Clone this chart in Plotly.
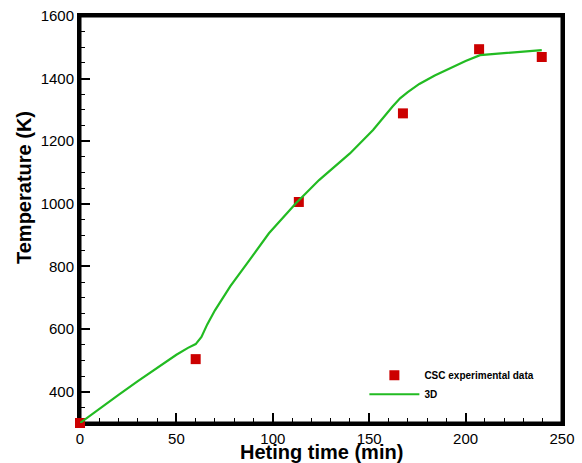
import plotly.graph_objects as go

# Experimental data (CSC)
exp_time = [0, 60, 113.5, 167.5, 207, 239.5]
exp_temp = [300, 504, 1006, 1289, 1494, 1469]

# 3D simulation curve
sim_time = [0, 10, 20, 30, 40, 50, 56, 60, 63, 66, 70, 78, 88, 98, 112, 124, 140, 152, 162, 166, 170, 176, 184, 192, 200, 207.5, 215, 223, 231, 239.5]
sim_temp = [300, 346, 390, 434, 477, 518, 540, 552, 575, 615, 660, 737, 821, 906, 1002, 1076, 1161, 1236, 1310, 1337, 1357, 1383, 1410, 1434, 1456, 1475, 1479, 1484, 1487, 1491]

x_range = [0, 250]
y_range = [300, 1600]
x_title = "Heting time (min)"
y_title = "Temperature (K)"

FONT = "Arial, Liberation Sans, sans-serif"
W, H = 582, 463
ML, MR, MT, MB = 80, 20, 16, 40
PW, PH = W - ML - MR, H - MT - MB

fig = go.Figure()
fig.add_trace(go.Scatter(
    x=exp_time, y=exp_temp, mode="markers", name="<b>CSC experimental data</b>",
    marker=dict(symbol="square", size=10, color="#cc0000"),
    cliponaxis=False,
))
fig.add_trace(go.Scatter(
    x=sim_time, y=sim_temp, mode="lines", name="<b>3D</b>",
    line=dict(color="#22bb22", width=2.2),
))

axis_common = dict(
    showgrid=False, zeroline=False, layer="below traces",
    showline=True, linecolor="black", linewidth=3,
    mirror=True, ticks="inside", ticklen=10, tickwidth=2, tickcolor="black",
    tickfont=dict(family=FONT, size=15, color="black"), automargin=False,
)

fig.update_xaxes(
    range=x_range, dtick=50, tick0=0,
    minor=dict(dtick=10, ticks="inside", ticklen=5, tickwidth=1, tickcolor="black"),
    **axis_common,
)
fig.update_yaxes(
    range=y_range, dtick=200, tick0=0,
    minor=dict(dtick=50, ticks="inside", ticklen=5, tickwidth=1, tickcolor="black"),
    **axis_common,
)

# frame drawn as filled bars along the plot-area edges (3 px thick)
tx, ty = 1.5 / PW, 1.5 / PH
frame_bars = [
    (-tx, tx, -ty, 1 + ty),          # left
    (1 - tx, 1 + tx, -ty, 1 + ty),   # right
    (-tx, 1 + tx, -ty, ty),          # bottom
    (-tx, 1 + tx, 1 - ty, 1 + ty),   # top
]
for x0, x1, y0, y1 in frame_bars:
    fig.add_shape(type="rect", xref="paper", yref="paper", x0=x0, x1=x1, y0=y0, y1=y1,
                  fillcolor="black", line=dict(width=0), layer="below")

# axis titles
fig.add_annotation(text=f"<b>{x_title}</b>", xref="paper", yref="paper",
                   x=(321 - ML) / PW, y=(H - MB - 452) / PH, xanchor="center", yanchor="middle",
                   showarrow=False, font=dict(family=FONT, size=20, color="black"))
fig.add_annotation(text=f"<b>{y_title}</b>", xref="paper", yref="paper", textangle=-90,
                   x=(24 - ML) / PW, y=(H - MB - 188) / PH, xanchor="center", yanchor="middle",
                   showarrow=False, font=dict(family=FONT, size=20, color="black"))

fig.update_layout(
    width=W, height=H,
    margin=dict(l=ML, r=MR, t=MT, b=MB),
    paper_bgcolor="white", plot_bgcolor="rgba(0,0,0,0)",
    showlegend=True,
    legend=dict(
        x=0.59, y=0.153, xanchor="left", yanchor="top",
        bgcolor="rgba(0,0,0,0)", tracegroupgap=0, itemwidth=50,
        font=dict(family=FONT, size=10, color="black"),
    ),
)

fig.write_html("out.html", config={"displayModeBar": False},
               post_script="document.body.style.margin='0';document.body.style.padding='0';")
